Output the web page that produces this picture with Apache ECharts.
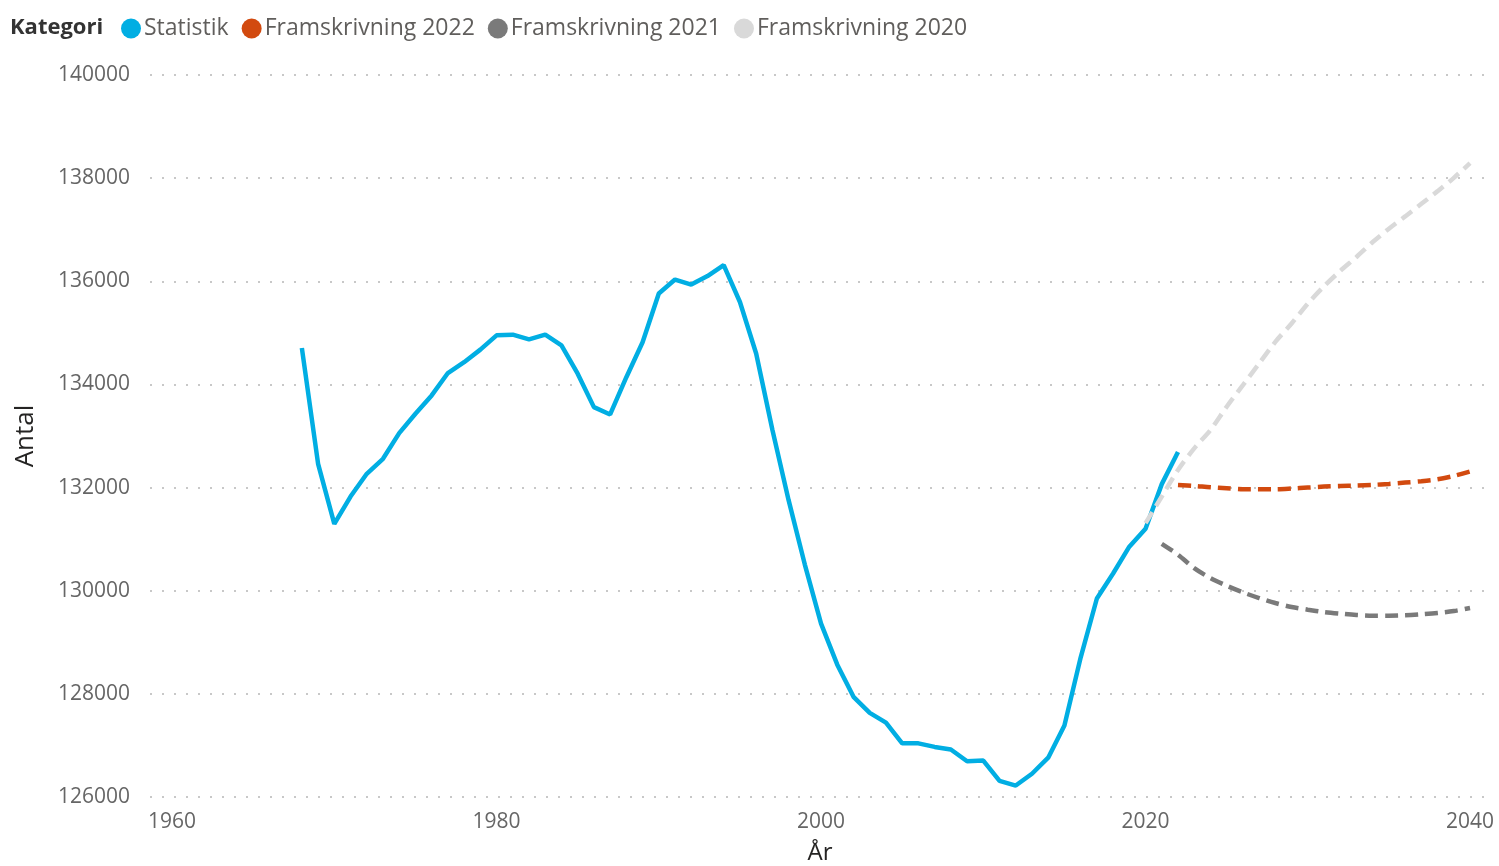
<!DOCTYPE html>
<html>
<head>
<meta charset="utf-8">
<title>Antal – statistik och framskrivningar</title>
<script src="https://cdn.jsdelivr.net/npm/echarts@6.0.0/dist/echarts.min.js"></script>
<style>
  html, body { margin: 0; padding: 0; background: #fff; }
  #chart { width: 1499px; height: 866px; }
</style>
</head>
<body>
<div id="chart"></div>
<script>
// 数据：按年份读取的数值
const statYears = [1968, 1969, 1970, 1971, 1972, 1973, 1974, 1975, 1976, 1977,
  1978, 1979, 1980, 1981, 1982, 1983, 1984, 1985, 1986, 1987,
  1988, 1989, 1990, 1991, 1992, 1993, 1994, 1995, 1996, 1997,
  1998, 1999, 2000, 2001, 2002, 2003, 2004, 2005, 2006, 2007,
  2008, 2009, 2010, 2011, 2012, 2013, 2014, 2015, 2016, 2017,
  2018, 2019, 2020, 2021, 2022];
const statValues = [134706, 132461, 131296, 131826, 132267, 132558, 133055, 133432, 133787, 134221,
  134431, 134675, 134952, 134965, 134875, 134965, 134757, 134208, 133560, 133418,
  134140, 134819, 135762, 136034, 135937, 136101, 136312, 135598, 134600, 133122,
  131756, 130507, 129363, 128566, 127942, 127630, 127442, 127040, 127040, 126971,
  126922, 126693, 126707, 126312, 126222, 126451, 126763, 127387, 128704, 129849,
  130334, 130854, 131201, 132067, 132691];

const proj2022Years = [2022, 2023, 2024, 2025, 2026, 2027, 2028, 2029, 2030, 2031,
  2032, 2033, 2034, 2035, 2036, 2037, 2038, 2039, 2040];
const proj2022Values = [132052, 132032, 132006, 131987, 131968, 131968, 131968, 131981, 132000, 132019,
  132032, 132039, 132052, 132071, 132097, 132123, 132161, 132226, 132310];

const proj2021Years = [2021, 2022, 2023, 2024, 2025, 2026, 2027, 2028, 2029, 2030,
  2031, 2032, 2033, 2034, 2035, 2036, 2037, 2038, 2039, 2040];
const proj2021Values = [130910, 130697, 130439, 130245, 130097, 129968, 129858, 129761, 129684, 129632,
  129587, 129555, 129529, 129516, 129516, 129523, 129542, 129568, 129606, 129665];

const proj2020Years = [2020, 2021, 2022, 2023, 2024, 2025, 2026, 2027, 2028, 2029,
  2030, 2031, 2032, 2033, 2034, 2035, 2036, 2037, 2038, 2039, 2040];
const proj2020Values = [131310, 131826, 132342, 132761, 133116, 133568, 133987, 134406, 134826, 135181,
  135568, 135903, 136200, 136471, 136761, 137019, 137258, 137503, 137748, 138006, 138290];

const xTickLabels = [1960, 1980, 2000, 2020, 2040];

const seriesNames = ['Statistik', 'Framskrivning 2022', 'Framskrivning 2021', 'Framskrivning 2020'];
const seriesColors = ['#01AEE3', '#D24A0F', '#7A7A7A', '#D9D9D9'];

/**
 * 工具函数：把年份和数值拼成 [x, y] 点。
 */
function zip(xs, ys) {
  return xs.map((x, i) => [x, ys[i]]);
}

const FONT = '"Open Sans", "Noto Sans", sans-serif';

function renderChart() {
  const chart = echarts.init(document.getElementById('chart'), null, { renderer: 'canvas' });

  const dashStyle = (color) => ({ color: color, width: 4.5, type: [13, 7] });

  chart.setOption({
    backgroundColor: '#ffffff',
    animation: false,
    color: seriesColors,
    title: {
      text: 'Kategori', left: 10, top: 17, padding: 0,
      textStyle: { fontFamily: FONT, fontSize: 22, fontWeight: 'bold', color: '#333333' }
    },
    legend: {
      left: 121, top: 17, padding: 0,
      icon: 'circle', itemWidth: 20, itemHeight: 20, itemGap: 13,
      data: seriesNames,
      textStyle: { fontFamily: FONT, fontSize: 23, color: '#605E5C', padding: [0, 0, 0, -2] }
    },
    grid: { left: 150, right: 9, top: 75, bottom: 69, outerBoundsMode: 'none' },
    xAxis: {
      type: 'value', min: 1958.64, max: 2041.23,
      name: 'År', nameLocation: 'middle', nameGap: 44,
      nameTextStyle: { fontFamily: FONT, fontSize: 24, color: '#252423' },
      axisLine: { show: false }, axisTick: { show: false }, splitLine: { show: false },
      axisLabel: { customValues: xTickLabels, margin: 15, fontFamily: FONT, fontSize: 21, color: '#666666',
        formatter: (v) => String(v) }
    },
    yAxis: {
      type: 'value', min: 126000, max: 140000, interval: 2000,
      name: 'Antal', nameLocation: 'middle', nameGap: 111, nameRotate: 90,
      nameTextStyle: { fontFamily: FONT, fontSize: 26, color: '#252423' },
      axisLine: { show: false }, axisTick: { show: false },
      axisLabel: { margin: 20, fontFamily: FONT, fontSize: 21, color: '#666666', formatter: (v) => String(v) },
      splitLine: { lineStyle: { color: '#c8c8c8', width: 2, type: [2, 10] } }
    },
    series: [
      { name: seriesNames[0], type: 'line', showSymbol: false, data: zip(statYears, statValues),
        lineStyle: { color: seriesColors[0], width: 4.5 } },
      { name: seriesNames[1], type: 'line', showSymbol: false, smooth: 0.3, data: zip(proj2022Years, proj2022Values),
        lineStyle: dashStyle(seriesColors[1]) },
      { name: seriesNames[2], type: 'line', showSymbol: false, smooth: 0.3, data: zip(proj2021Years, proj2021Values),
        lineStyle: dashStyle(seriesColors[2]) },
      { name: seriesNames[3], type: 'line', showSymbol: false, smooth: 0.3, data: zip(proj2020Years, proj2020Values),
        lineStyle: dashStyle(seriesColors[3]) }
    ]
  });
}

renderChart();
</script>
</body>
</html>
